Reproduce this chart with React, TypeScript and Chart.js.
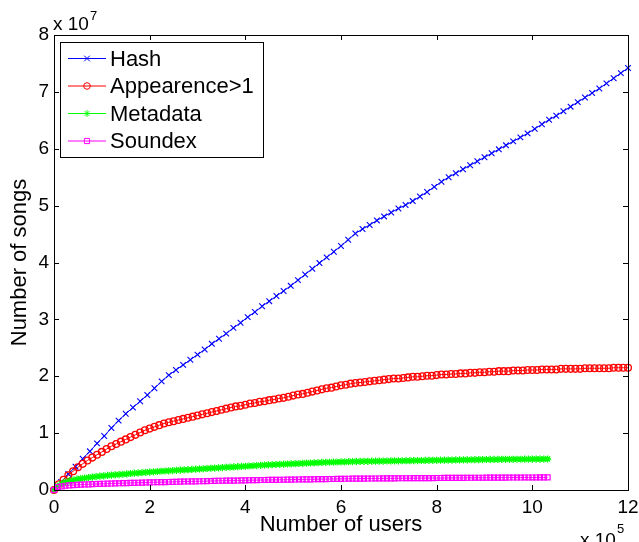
import React, { useEffect, useRef } from 'react';
import { Chart, registerables } from 'chart.js';

Chart.register(...registerables);

// Axis ticks (x in units of 10^5 users, y in units of 10^7 songs)
const xTicks = [0, 2, 4, 6, 8, 10, 12];
const yTicks = [0, 1, 2, 3, 4, 5, 6, 7, 8];
const xMultiplier = '5';
const yMultiplier = '7';

const seriesNames = ['Hash', 'Appearence>1', 'Metadata', 'Soundex'];
const seriesColors = ['#0000ff', '#ff0000', '#00ff00', '#ff00ff'];
const seriesMarkers = ['crossRot', 'circle', 'star', 'rect'];

// Sampling interval of each series along x (10^5 users)
const hashStep = 0.15;
const appearStep = 0.1;
const metaStep = 0.08;
const soundexStep = 0.08;

const hashValues = [
  0.00, 0.14, 0.28, 0.41, 0.55, 0.68, 0.82, 0.95, 1.09, 1.22,
  1.34, 1.45, 1.56, 1.67, 1.79, 1.91, 2.02, 2.11, 2.20, 2.29,
  2.38, 2.47, 2.57, 2.66, 2.75, 2.85, 2.94, 3.04, 3.13, 3.23,
  3.32, 3.41, 3.50, 3.59, 3.69, 3.79, 3.89, 3.99, 4.09, 4.19,
  4.29, 4.40, 4.51, 4.59, 4.66, 4.74, 4.81, 4.88, 4.95, 5.01,
  5.08, 5.16, 5.24, 5.33, 5.42, 5.50, 5.57, 5.64, 5.71, 5.78,
  5.85, 5.92, 5.99, 6.06, 6.13, 6.20, 6.27, 6.35, 6.43, 6.51,
  6.58, 6.66, 6.74, 6.82, 6.90, 6.98, 7.06, 7.15, 7.24, 7.33,
  7.42,
];

const appearValues = [
  0.00, 0.10, 0.18, 0.26, 0.33, 0.40, 0.46, 0.52, 0.57, 0.62,
  0.67, 0.72, 0.77, 0.81, 0.85, 0.89, 0.93, 0.97, 1.01, 1.05,
  1.08, 1.11, 1.14, 1.17, 1.19, 1.21, 1.23, 1.25, 1.27, 1.29,
  1.31, 1.33, 1.35, 1.37, 1.39, 1.41, 1.43, 1.45, 1.47, 1.48,
  1.50, 1.52, 1.53, 1.55, 1.56, 1.58, 1.59, 1.61, 1.62, 1.64,
  1.66, 1.68, 1.69, 1.71, 1.73, 1.75, 1.77, 1.79, 1.80, 1.82,
  1.84, 1.85, 1.87, 1.88, 1.89, 1.90, 1.91, 1.92, 1.93, 1.94,
  1.95, 1.96, 1.96, 1.97, 1.98, 1.99, 1.99, 2.00, 2.01, 2.01,
  2.02, 2.03, 2.03, 2.04, 2.04, 2.05, 2.05, 2.06, 2.06, 2.07,
  2.07, 2.08, 2.08, 2.09, 2.09, 2.09, 2.10, 2.10, 2.10, 2.11,
  2.11, 2.11, 2.12, 2.12, 2.12, 2.12, 2.13, 2.13, 2.13, 2.13,
  2.13, 2.14, 2.14, 2.14, 2.14, 2.14, 2.14, 2.15, 2.15, 2.15,
  2.15,
];

const metaValues = [
  0.000, 0.070, 0.110, 0.140, 0.160, 0.175, 0.190, 0.200, 0.210, 0.220,
  0.228, 0.236, 0.243, 0.250, 0.256, 0.262, 0.267, 0.272, 0.277, 0.282,
  0.290, 0.295, 0.300, 0.305, 0.310, 0.315, 0.320, 0.325, 0.330, 0.334,
  0.338, 0.342, 0.346, 0.350, 0.354, 0.358, 0.362, 0.366, 0.370, 0.374,
  0.378, 0.382, 0.386, 0.390, 0.394, 0.398, 0.402, 0.406, 0.410, 0.414,
  0.418, 0.422, 0.426, 0.430, 0.434, 0.438, 0.442, 0.445, 0.448, 0.451,
  0.454, 0.457, 0.460, 0.463, 0.466, 0.469, 0.472, 0.475, 0.478, 0.481,
  0.484, 0.486, 0.488, 0.490, 0.492, 0.494, 0.496, 0.498, 0.500, 0.502,
  0.503, 0.504, 0.505, 0.506, 0.507, 0.508, 0.509, 0.510, 0.511, 0.512,
  0.513, 0.514, 0.515, 0.516, 0.517, 0.518, 0.519, 0.520, 0.521, 0.522,
  0.523, 0.524, 0.525, 0.526, 0.527, 0.528, 0.529, 0.530, 0.531, 0.532,
  0.533, 0.534, 0.535, 0.536, 0.537, 0.538, 0.538, 0.539, 0.539, 0.540,
  0.540, 0.541, 0.541, 0.542, 0.542, 0.543, 0.543, 0.544, 0.544, 0.545,
];

const soundexValues = [
  0.000, 0.050, 0.065, 0.075, 0.082, 0.087, 0.091, 0.094, 0.097, 0.100,
  0.103, 0.106, 0.108, 0.110, 0.112, 0.114, 0.116, 0.118, 0.120, 0.122,
  0.124, 0.126, 0.128, 0.130, 0.132, 0.134, 0.136, 0.137, 0.138, 0.139,
  0.141, 0.143, 0.145, 0.147, 0.149, 0.150, 0.151, 0.152, 0.153, 0.154,
  0.156, 0.158, 0.160, 0.162, 0.163, 0.164, 0.165, 0.166, 0.167, 0.168,
  0.170, 0.172, 0.173, 0.174, 0.175, 0.176, 0.177, 0.178, 0.179, 0.180,
  0.181, 0.182, 0.183, 0.184, 0.185, 0.186, 0.187, 0.188, 0.189, 0.190,
  0.191, 0.192, 0.193, 0.194, 0.195, 0.196, 0.197, 0.198, 0.199, 0.200,
  0.201, 0.201, 0.202, 0.202, 0.203, 0.203, 0.204, 0.204, 0.205, 0.205,
  0.206, 0.206, 0.207, 0.207, 0.208, 0.208, 0.209, 0.209, 0.210, 0.210,
  0.211, 0.211, 0.212, 0.212, 0.213, 0.213, 0.214, 0.214, 0.215, 0.215,
  0.216, 0.216, 0.216, 0.217, 0.217, 0.217, 0.218, 0.218, 0.218, 0.219,
  0.219, 0.219, 0.219, 0.220, 0.220, 0.220, 0.220, 0.221, 0.221, 0.221,
];

const FONT = "'Liberation Sans', Arial, Helvetica, sans-serif";

function toPoints(values: number[], step: number) {
  return values.map((v, i) => ({ x: Math.round(i * step * 1000) / 1000, y: v }));
}

function drawMarker(ctx: CanvasRenderingContext2D, kind: string, x: number, y: number, r: number) {
  ctx.beginPath();
  if (kind === 'crossRot') {
    ctx.moveTo(x - r, y - r); ctx.lineTo(x + r, y + r);
    ctx.moveTo(x + r, y - r); ctx.lineTo(x - r, y + r);
  } else if (kind === 'circle') {
    ctx.arc(x, y, r, 0, Math.PI * 2);
  } else if (kind === 'star') {
    ctx.moveTo(x - r, y); ctx.lineTo(x + r, y);
    ctx.moveTo(x, y - r); ctx.lineTo(x, y + r);
    const d = r * 0.7071;
    ctx.moveTo(x - d, y - d); ctx.lineTo(x + d, y + d);
    ctx.moveTo(x + d, y - d); ctx.lineTo(x - d, y + d);
  } else {
    ctx.rect(x - r, y - r, 2 * r, 2 * r);
  }
  ctx.stroke();
}

const decorPlugin = {
  id: 'matlabDecor',
  afterDraw(chart: any) {
    const { ctx, chartArea: a, scales } = chart;
    const xs = scales.x;
    const ys = scales.y;
    ctx.save();
    ctx.strokeStyle = '#000';
    ctx.lineWidth = 1;
    // box
    ctx.strokeRect(Math.round(a.left) + 0.5, Math.round(a.top) + 0.5,
      Math.round(a.right - a.left), Math.round(a.bottom - a.top));
    // inward ticks on all four sides
    const tl = 5;
    ctx.beginPath();
    xTicks.forEach((t) => {
      const px = Math.round(xs.getPixelForValue(t)) + 0.5;
      ctx.moveTo(px, a.bottom); ctx.lineTo(px, a.bottom - tl);
      ctx.moveTo(px, a.top); ctx.lineTo(px, a.top + tl);
    });
    yTicks.forEach((t) => {
      const py = Math.round(ys.getPixelForValue(t)) + 0.5;
      ctx.moveTo(a.left, py); ctx.lineTo(a.left + tl, py);
      ctx.moveTo(a.right, py); ctx.lineTo(a.right - tl, py);
    });
    ctx.stroke();

    // axis titles
    ctx.fillStyle = '#000';
    ctx.font = `22px ${FONT}`;
    ctx.textAlign = 'center';
    ctx.textBaseline = 'alphabetic';
    ctx.fillText('Number of users', (a.left + a.right) / 2, 531);
    ctx.save();
    ctx.translate(26, (a.top + a.bottom) / 2);
    ctx.rotate(-Math.PI / 2);
    ctx.fillText('Number of songs', 0, 0);
    ctx.restore();

    // exponent labels
    ctx.textAlign = 'left';
    ctx.font = `19px ${FONT}`;
    ctx.fillText('x 10', 53, 30);
    const w10 = ctx.measureText('x 10').width;
    ctx.font = `13px ${FONT}`;
    ctx.fillText(yMultiplier, 53 + w10 + 1, 20);
    ctx.font = `19px ${FONT}`;
    ctx.fillText('x 10', 580, 546);
    const w10b = ctx.measureText('x 10').width;
    ctx.font = `13px ${FONT}`;
    ctx.fillText(xMultiplier, 580 + w10b + 1, 533);

    // legend
    const lx = 60, ly = 42, lw = 203, lh = 115;
    ctx.fillStyle = '#fff';
    ctx.fillRect(lx, ly, lw, lh);
    ctx.strokeStyle = '#000';
    ctx.strokeRect(lx + 0.5, ly + 0.5, lw, lh);
    const rows = [58.5, 86, 113.5, 141];
    ctx.font = `22px ${FONT}`;
    ctx.textBaseline = 'middle';
    seriesNames.forEach((name, i) => {
      const yy = rows[i];
      ctx.strokeStyle = seriesColors[i];
      ctx.lineWidth = 1;
      ctx.beginPath();
      ctx.moveTo(68, yy); ctx.lineTo(106, yy);
      ctx.stroke();
      drawMarker(ctx, seriesMarkers[i], 87, yy, i === 0 ? 2.8 : i === 3 ? 2.6 : 3.3);
      ctx.fillStyle = '#000';
      ctx.fillText(name, 110, yy + 1);
    });
    ctx.restore();
  },
};

export default function App() {
  const ref = useRef<HTMLCanvasElement | null>(null);

  useEffect(() => {
    if (!ref.current) return;
    const series = [
      toPoints(hashValues, hashStep),
      toPoints(appearValues, appearStep),
      toPoints(metaValues, metaStep),
      toPoints(soundexValues, soundexStep),
    ];
    const radii = [4, 3.4, 3.6, 3.5];
    const pbw = [1.1, 1.3, 1.3, 1.2];
    const chart = new Chart(ref.current, {
      type: 'line',
      data: {
        datasets: series.map((pts, i) => ({
          label: seriesNames[i],
          data: pts,
          borderColor: seriesColors[i],
          backgroundColor: 'rgba(0,0,0,0)',
          pointBorderColor: seriesColors[i],
          pointBackgroundColor: 'rgba(0,0,0,0)',
          pointStyle: seriesMarkers[i] as any,
          pointRadius: radii[i],
          pointBorderWidth: pbw[i],
          borderWidth: 1,
          tension: 0,
          fill: false,
          clip: false as any,
          order: 3 - i,
        })),
      },
      options: {
        animation: false,
        responsive: false,
        devicePixelRatio: 1,
        events: [],
        layout: { padding: { left: 0, right: 11, top: 35, bottom: 0 } },
        plugins: {
          legend: { display: false },
          tooltip: { enabled: false },
          title: { display: false },
        },
        scales: {
          x: {
            type: 'linear',
            min: 0,
            max: 12,
            afterFit: (s: any) => { s.height = 52; s.paddingLeft = 0; s.paddingRight = 0; },
            afterBuildTicks: (s: any) => { s.ticks = xTicks.map((v) => ({ value: v })); },
            grid: { display: false, drawTicks: false },
            border: { display: false },
            ticks: {
              color: '#000',
              font: { family: FONT, size: 19 },
              padding: 6,
              maxRotation: 0,
              autoSkip: false,
            },
          },
          y: {
            type: 'linear',
            min: 0,
            max: 8,
            afterFit: (s: any) => { s.width = 54; s.paddingTop = 0; s.paddingBottom = 0; },
            afterBuildTicks: (s: any) => { s.ticks = yTicks.map((v) => ({ value: v })); },
            grid: { display: false, drawTicks: false },
            border: { display: false },
            ticks: {
              color: '#000',
              font: { family: FONT, size: 19 },
              padding: 5,
              autoSkip: false,
            },
          },
        },
      },
      plugins: [decorPlugin],
    });
    return () => chart.destroy();
  }, []);

  return (
    <div style={{ position: 'absolute', left: 0, top: 0, width: 639, height: 542, background: '#fff' }}>
      <canvas ref={ref} width={639} height={542} style={{ display: 'block' }} />
    </div>
  );
}
